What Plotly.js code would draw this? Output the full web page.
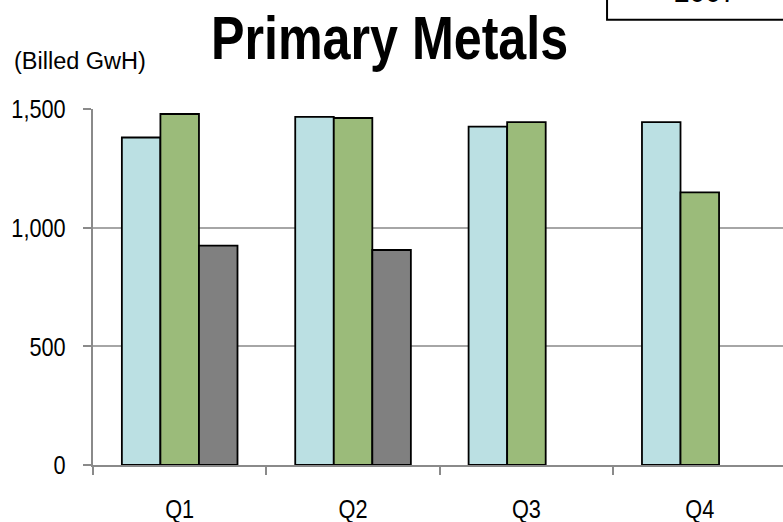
<!DOCTYPE html>
<html>
<head>
<meta charset="utf-8">
<script src="https://cdn.plot.ly/plotly-3.0.1.min.js"></script>
<style>
  html, body { margin: 0; padding: 0; background: #fff; }
  #chart { width: 783px; height: 522px; }
</style>
</head>
<body>
<div id="chart"></div>
<script>
// Quarterly billed energy for the primary metals sector (GWh)
const quarters = ['Q1', 'Q2', 'Q3', 'Q4'];
const seriesA = [1380, 1467, 1426, 1445];   // light blue bars
const seriesB = [1479, 1462, 1445, 1149];   // green bars
const seriesC = [924, 906, null, null];     // grey bars
const yTickVals = [0, 500, 1000, 1500];
const yTickText = ['0', '500', '1,000', '1,500'];

const sans = '"Liberation Sans", Arial, sans-serif';
const outline = { color: '#000000', width: 1.8 };

const traces = [
  { type: 'bar', x: quarters, y: seriesA, marker: { color: '#BBE0E3', line: outline } },
  { type: 'bar', x: quarters, y: seriesB, marker: { color: '#9BBB7A', line: outline } },
  { type: 'bar', x: quarters, y: seriesC, marker: { color: '#808080', line: outline } }
];

const layout = {
  width: 783,
  height: 522,
  margin: { l: 93, r: 0, t: 109, b: 57, pad: 0 },
  paper_bgcolor: '#ffffff',
  plot_bgcolor: '#ffffff',
  showlegend: false,
  barmode: 'group',
  bargap: 0.333,
  bargroupgap: 0,
  font: { family: sans, color: '#000000', size: 26 },
  xaxis: {
    type: 'category',
    range: [-0.5, 3.48],
    showline: true,
    linecolor: '#8A8A8A',
    linewidth: 2,
    ticks: 'outside',
    tickson: 'boundaries',
    ticklen: 8,
    tickwidth: 2,
    tickcolor: '#8A8A8A',
    ticklabelstandoff: 19,
    showgrid: false,
    zeroline: false,
    tickfont: { family: sans, size: 26.5, color: '#000000' }
  },
  yaxis: {
    range: [0, 1500],
    tickvals: yTickVals,
    ticktext: yTickText,
    showline: true,
    linecolor: '#8A8A8A',
    linewidth: 2,
    ticks: 'outside',
    ticklen: 8,
    tickwidth: 2,
    tickcolor: '#8A8A8A',
    ticklabelstandoff: 12,
    showgrid: true,
    gridcolor: '#A6A6A6',
    gridwidth: 2,
    zeroline: false,
    tickfont: { family: sans, size: 26.5, color: '#000000' }
  },
  shapes: [
    {
      type: 'rect', xref: 'paper', yref: 'paper',
      x0: 0.745, x1: 1.1, y0: 1.251, y1: 1.5,
      line: { color: '#000000', width: 2 }, fillcolor: 'rgba(0,0,0,0)'
    }
  ],
  annotations: [
    {
      text: '<b>Primary Metals</b>', xref: 'paper', yref: 'paper',
      x: 0.429, y: 1.20, xanchor: 'center', yanchor: 'middle',
      showarrow: false, font: { family: sans, size: 62, color: '#000000' }
    },
    {
      text: '(Billed GwH)', xref: 'paper', yref: 'paper',
      x: -0.118, y: 1.135, xanchor: 'left', yanchor: 'middle',
      showarrow: false, font: { family: sans, size: 23.5, color: '#000000' }
    },
    {
      text: '2007', xref: 'paper', yref: 'paper',
      x: 0.887, y: 1.279, xanchor: 'center', yanchor: 'bottom',
      showarrow: false, font: { family: sans, size: 28, color: '#000000' }
    }
  ]
};

// Squeeze text horizontally about its anchor point to get a narrow typeface look
function condense(nodes, factor) {
  nodes.forEach(function (el) {
    const box = el.getBBox();
    const anchor = el.getAttribute('text-anchor') || 'start';
    let ax = box.x;
    if (anchor === 'middle') ax = box.x + box.width / 2;
    else if (anchor === 'end') ax = box.x + box.width;
    const prev = el.getAttribute('transform') || '';
    el.setAttribute('transform',
      (prev + ' translate(' + ax + ',0) scale(' + factor + ',1) translate(' + (-ax) + ',0)').trim());
  });
}

Plotly.newPlot('chart', traces, layout, { displayModeBar: false, staticPlot: true }).then(function (gd) {
  condense(gd.querySelectorAll('.xtick text, .ytick text'), 0.82);
  const notes = gd.querySelectorAll('.annotation-text');
  condense([notes[0]], 0.81);
});
</script>
</body>
</html>
